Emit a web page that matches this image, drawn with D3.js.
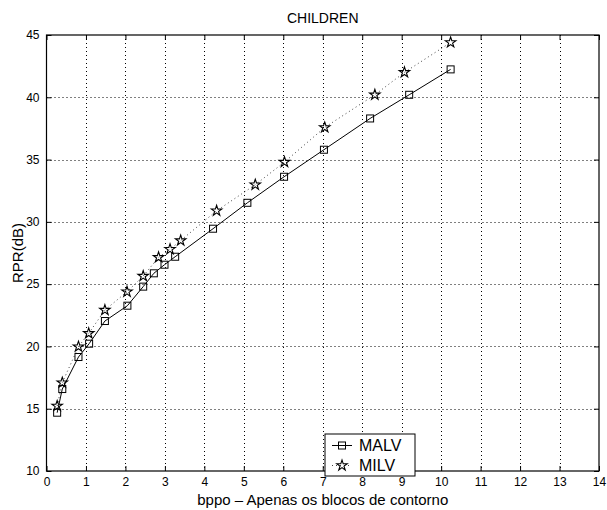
<!DOCTYPE html>
<html>
<head>
<meta charset="utf-8">
<script src="https://cdn.jsdelivr.net/npm/d3@7"></script>
<style>
  body { margin: 0; background: #fff; }
  svg { display: block; font-family: "Liberation Sans", Arial, Helvetica, sans-serif; }
</style>
</head>
<body>
<svg id="svg"></svg>
<script>
const W = 607, H = 510;

// MALV (squares, solid line)
const malvX = [0.27, 0.40, 0.81, 1.08, 1.48, 2.05, 2.45, 2.72, 2.99, 3.26, 4.22, 5.09, 6.02, 7.03, 8.2, 9.19, 10.24];
const malvY = [14.68, 16.58, 19.15, 20.22, 22.04, 23.27, 24.8, 25.87, 26.56, 27.2, 29.45, 31.53, 33.62, 35.79, 38.3, 40.2, 42.24];
// MILV (stars, dotted line)
const milvX = [0.27, 0.40, 0.81, 1.07, 1.48, 2.04, 2.45, 2.84, 3.13, 3.4, 4.31, 5.29, 6.03, 7.05, 8.32, 9.07, 10.24];
const milvY = [15.22, 17.09, 19.98, 21.05, 22.92, 24.39, 25.65, 27.15, 27.8, 28.5, 30.89, 32.98, 34.8, 37.58, 40.2, 42.0, 44.4];

const xTicks = [0, 1, 2, 3, 4, 5, 6, 7, 8, 9, 10, 11, 12, 13, 14];
const yTicks = [10, 15, 20, 25, 30, 35, 40, 45];
const seriesNames = ["MALV", "MILV"];

const m = { left: 46.5, right: 599, top: 35, bottom: 471 };

const svg = d3.select("#svg").attr("width", W).attr("height", H);
const x = d3.scaleLinear().domain([0, 14]).range([m.left, m.right]);
const y = d3.scaleLinear().domain([10, 45]).range([m.bottom, m.top]);

// grid
const grid = svg.append("g").attr("stroke", "#000").attr("stroke-width", 1)
    .attr("stroke-dasharray", "1,3");
grid.selectAll(".gx").data(xTicks.slice(1, -1)).join("line")
    .attr("x1", d => Math.round(x(d)) + 0.5).attr("x2", d => Math.round(x(d)) + 0.5)
    .attr("y1", m.top).attr("y2", m.bottom);
grid.selectAll(".gy").data(yTicks.slice(1, -1)).join("line")
    .attr("y1", d => Math.round(y(d)) + 0.5).attr("y2", d => Math.round(y(d)) + 0.5)
    .attr("x1", m.left).attr("x2", m.right);

// axes with inward ticks on all sides
const axB = svg.append("g").attr("transform", `translate(0,${m.bottom})`)
    .call(d3.axisBottom(x).tickValues(xTicks).tickSize(-5).tickPadding(6).tickFormat(d3.format("d")));
const axT = svg.append("g").attr("transform", `translate(0,${m.top})`)
    .call(d3.axisTop(x).tickValues(xTicks).tickSize(-5).tickFormat(""));
const axL = svg.append("g").attr("transform", `translate(${m.left},0)`)
    .call(d3.axisLeft(y).tickValues(yTicks).tickSize(-5).tickPadding(7).tickFormat(d3.format("d")));
const axR = svg.append("g").attr("transform", `translate(${m.right},0)`)
    .call(d3.axisRight(y).tickValues(yTicks).tickSize(-5).tickFormat(""));
[axB, axT, axL, axR].forEach(a => {
    a.select(".domain").remove();
    a.selectAll("line").attr("stroke", "#000");
    a.selectAll("text").attr("font-size", 12).attr("fill", "#000")
        .attr("font-family", "'Liberation Sans', Arial, sans-serif");
});

svg.append("rect").attr("x", m.left).attr("y", m.top)
    .attr("width", m.right - m.left).attr("height", m.bottom - m.top)
    .attr("fill", "none").attr("stroke", "#000").attr("stroke-width", 1.2);

const line = d3.line().x(d => x(d[0])).y(d => y(d[1]));
const malv = d3.zip(malvX, malvY);
const milv = d3.zip(milvX, milvY);

svg.append("path").attr("d", line(milv)).attr("fill", "none")
    .attr("stroke", "#444").attr("stroke-width", 1).attr("stroke-dasharray", "1,3");
svg.append("path").attr("d", line(malv)).attr("fill", "none")
    .attr("stroke", "#000").attr("stroke-width", 1);

const star = d3.symbol().type(d3.symbolStar).size(34);
svg.append("g").selectAll("path").data(milv).join("path")
    .attr("d", star).attr("transform", d => `translate(${x(d[0])},${y(d[1])})`)
    .attr("fill", "none").attr("stroke", "#000").attr("stroke-width", 1.1);
svg.append("g").selectAll("rect").data(malv).join("rect")
    .attr("x", d => x(d[0]) - 3.5).attr("y", d => y(d[1]) - 3.5)
    .attr("width", 7).attr("height", 7)
    .attr("fill", "none").attr("stroke", "#000").attr("stroke-width", 1);

// labels
svg.append("text").attr("x", (m.left + m.right) / 2).attr("y", 23)
    .attr("text-anchor", "middle").attr("font-size", 14).text("CHILDREN");
svg.append("text").attr("x", (m.left + m.right) / 2).attr("y", 505)
    .attr("text-anchor", "middle").attr("font-size", 15).text("bppo \u2013 Apenas os blocos de contorno");
svg.append("text").attr("transform", `translate(23,${(m.top + m.bottom) / 2}) rotate(-90)`)
    .attr("text-anchor", "middle").attr("font-size", 15).text("RPR(dB)");

// legend
const lg = svg.append("g").attr("transform", "translate(325,434)");
lg.append("rect").attr("width", 90).attr("height", 42)
    .attr("fill", "#fff").attr("stroke", "#000").attr("stroke-width", 1);
lg.append("line").attr("x1", 7).attr("x2", 27).attr("y1", 11.5).attr("y2", 11.5)
    .attr("stroke", "#000");
lg.append("rect").attr("x", 13.5).attr("y", 8).attr("width", 7).attr("height", 7)
    .attr("fill", "none").attr("stroke", "#000");
lg.append("line").attr("x1", 7).attr("x2", 27).attr("y1", 31.5).attr("y2", 31.5)
    .attr("stroke", "#444").attr("stroke-dasharray", "1,3");
lg.append("path").attr("d", star).attr("transform", "translate(17,31.5)")
    .attr("fill", "none").attr("stroke", "#000").attr("stroke-width", 1.1);
lg.selectAll("text.l").data(seriesNames).join("text")
    .attr("x", 34).attr("y", (d, i) => 17 + i * 20)
    .attr("font-size", 16).text(d => d);
</script>
</body>
</html>
